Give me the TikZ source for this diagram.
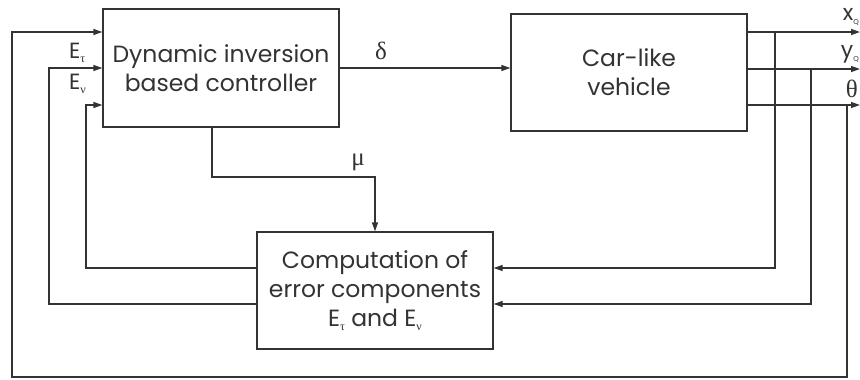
\documentclass[tikz,border=0pt]{standalone}
\usepackage{fontspec}
\setmainfont{Poppins}
\newfontfamily\gk{Liberation Serif}
\usetikzlibrary{arrows.meta}
\definecolor{ink}{HTML}{333333}
\newcommand{\sub}[1]{\raisebox{-4pt}{\fontsize{12}{12}\selectfont #1}}
\begin{document}
\begin{tikzpicture}[x=1pt,y=-1pt]
\tikzset{
 blk/.style={draw=ink, line width=1.3pt, minimum width=236pt, minimum height=118pt, align=center, inner sep=0pt, text=ink, font=\fontsize{23.5}{29}\selectfont},
 wire/.style={draw=ink, line width=1.3pt},
 arr/.style={wire, -{Triangle[length=9pt,width=6pt]}},
 lbl/.style={font=\fontsize{22}{24}\selectfont, inner sep=0pt, text=ink},
 glbl/.style={font=\fontsize{25}{26}\gk, inner sep=0pt, text=ink},
}
\useasboundingbox (0,0) rectangle (860,380);
\node[blk] (ctrl) at (221,68) {Dynamic inversion\\based controller};
\node[blk, minimum height=117pt] (car) at (629,72.5) {Car-like\\vehicle};
\node[blk, minimum height=117pt] (comp) at (375,290.5) {Computation of\\error components\\E\sub{\gk τ} and E\sub{\gk ν}};
% outputs
\coordinate (o1) at (860,32);
\coordinate (o2) at (860,69);
\coordinate (o3) at (860,105);
\coordinate (t1) at (775,32);
\coordinate (t2) at (811,69);
\coordinate (t3) at (847,105);
\coordinate (b2) at (12,377);
\coordinate (l1) at (86,200);
\coordinate (l2) at (49,200);
\coordinate (m1) at (300,177);
\draw[arr] (car.east |- o1) -- (o1);
\draw[arr] (car.east |- o2) -- (o2);
\draw[arr] (car.east |- o3) -- (o3);
\draw[arr] (t1) |- ([yshift=22.5pt]comp.east);
\draw[arr] (t2) |- ([yshift=-13.5pt]comp.east);
\draw[arr] (t3) |- (b2) |- ([yshift=36pt]ctrl.west);
\draw[arr] ([yshift=22.5pt]comp.west) -| (l1) |- ([yshift=-37pt]ctrl.west);
\draw[arr] ([yshift=-13.5pt]comp.west) -| (l2) |- (ctrl.west);
\draw[arr] ([xshift=-9pt]ctrl.south) |- (m1) -| (comp.north);
\draw[arr] (ctrl.east) -- (ctrl.east -| car.west);
% labels
\node[glbl, anchor=base] (d) at (381,59) {δ};
\node[glbl, anchor=base] (mu) at (358,165) {μ};
\node[lbl, anchor=base west] (et) at (69,58) {E\sub{\gk τ}};
\node[lbl, anchor=base west] (ev) at (69,89) {E\sub{\gk ν}};
\node[lbl, anchor=base east] (xq) at (859,20) {x\sub{\fontsize{7}{7}\selectfont Q}};
\node[lbl, anchor=base east] (yq) at (859,57) {y\sub{\fontsize{7}{7}\selectfont Q}};
\node[glbl, anchor=base east] (th) at (858,97) {θ};
\end{tikzpicture}
\end{document}
